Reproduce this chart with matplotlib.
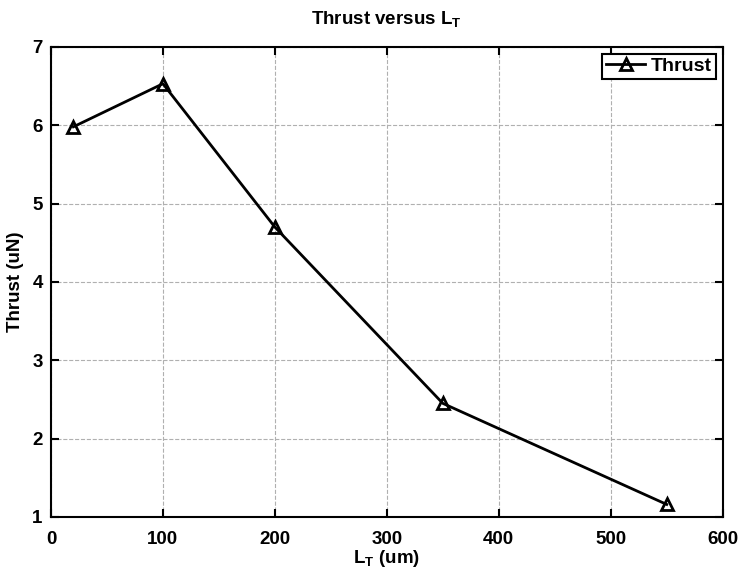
import matplotlib
matplotlib.use("Agg")
import matplotlib.pyplot as plt

# data
lt_um = [20, 100, 200, 350, 550]
thrust_un = [5.98, 6.53, 4.70, 2.45, 1.16]

plt.rcParams['font.family'] = ['Liberation Sans', 'DejaVu Sans']
plt.rcParams['font.weight'] = 'bold'

fig = plt.figure(figsize=(7.42, 5.72), dpi=100)
ax = fig.add_axes([0.0687, 0.0962, 0.9053, 0.8218])

ax.plot(lt_um, thrust_un, color='black', lw=2, marker='^', ms=8,
        mfc='none', mec='black', mew=2, label='Thrust')

ax.set_xlim(0, 600)
ax.set_ylim(1, 7)
ax.set_xticks(range(0, 601, 100))
ax.set_yticks(range(1, 8))
ax.grid(True, color='#b0b0b0', ls='--', lw=0.8)
ax.tick_params(direction='in', labelsize=13.5, width=1.5, length=6,
               top=True, right=True)
ax.tick_params(axis='x', pad=10)
ax.tick_params(axis='y', pad=6)
for s in ax.spines.values():
    s.set_linewidth(1.5)

ax.set_xlabel(r'L$_\mathregular{T}$ (um)', fontsize=13.5, fontweight='bold', labelpad=0)
ax.set_ylabel('Thrust (uN)', fontsize=13.5, fontweight='bold', labelpad=6)
ax.set_title(r'Thrust versus L$_\mathregular{T}$', fontsize=13.5, fontweight='bold', pad=16)

leg = ax.legend(loc='upper right', fontsize=14, frameon=True, fancybox=False,
                borderpad=0.2, handlelength=2, handletextpad=0.3,
                borderaxespad=0.35)
leg.get_frame().set_edgecolor('black')
leg.get_frame().set_linewidth(1.5)
leg.get_frame().set_alpha(1)

fig.savefig('out.png', dpi=100)
